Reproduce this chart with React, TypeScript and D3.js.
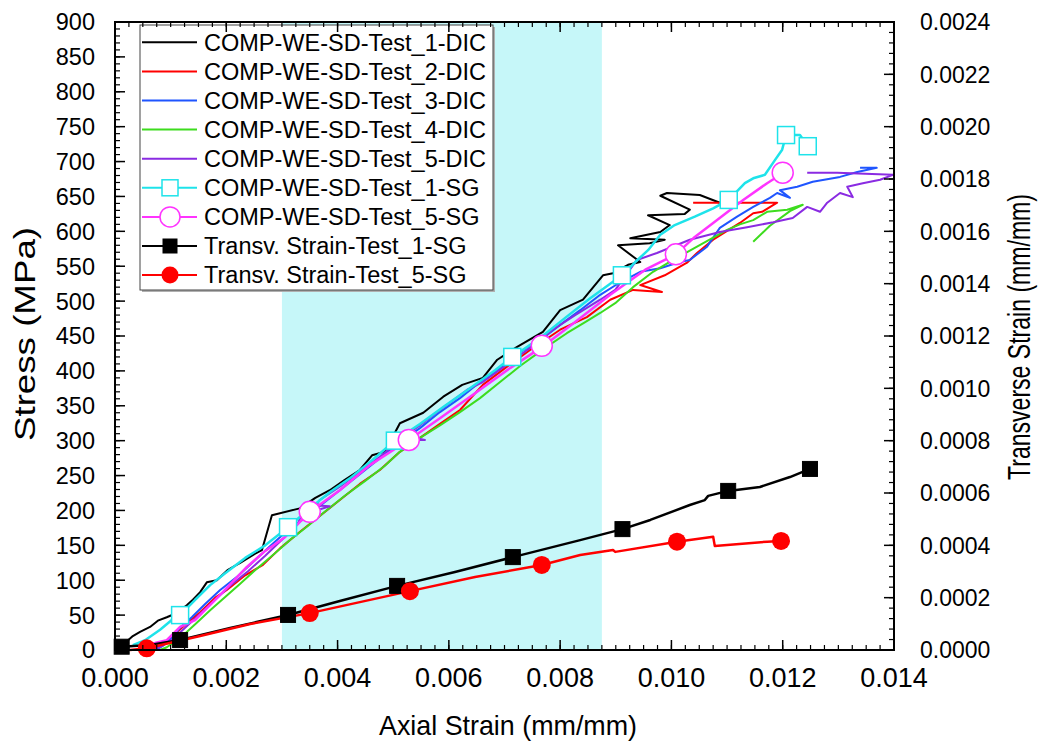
import React from "react";
import * as d3 from "d3";

// ---------- data ----------
type P = [number, number];

const dic1: P[] = [
  [0, 0], [0.00011, 6], [0.00022, 13], [0.00032, 20], [0.00045, 26], [0.00063, 33], [0.00077, 42],
  [0.00093, 47], [0.00108, 52], [0.00129, 64], [0.0014, 72], [0.00153, 83], [0.00165, 97], [0.00183, 100],
  [0.00203, 115], [0.00225, 125], [0.00252, 138], [0.00264, 143], [0.00282, 193], [0.00332, 203],
  [0.0036, 218], [0.00386, 229], [0.00413, 244], [0.0044, 258], [0.00462, 279], [0.00485, 284],
  [0.00512, 325], [0.00554, 340], [0.0059, 363], [0.00624, 380], [0.00661, 390], [0.00687, 416],
  [0.00722, 434], [0.00769, 456], [0.008, 487], [0.00841, 502], [0.00877, 537], [0.00895, 540],
  [0.00922, 552], [0.00944, 556], [0.00904, 580], [0.00961, 583], [0.00988, 588], [0.00926, 590],
  [0.0098, 599], [0.00997, 609], [0.00958, 623], [0.01024, 625], [0.01033, 631], [0.0098, 651],
  [0.00992, 655], [0.01051, 652], [0.01087, 641],
];

const dic2: P[] = [
  [0.00063, 0], [0.00081, 6], [0.00093, 13], [0.00108, 23], [0.00126, 36], [0.00153, 54], [0.0018, 75],
  [0.00201, 86], [0.00234, 107], [0.00266, 122], [0.00297, 146], [0.00332, 169], [0.00368, 192],
  [0.00404, 215], [0.0044, 238], [0.00476, 258], [0.00512, 284], [0.00548, 304], [0.00584, 324],
  [0.0062, 344], [0.00661, 380], [0.00701, 404], [0.00746, 430], [0.008, 459], [0.00848, 477],
  [0.0089, 502], [0.00931, 516], [0.00983, 513], [0.00944, 523], [0.00988, 537], [0.01028, 555],
  [0.01046, 569], [0.01075, 588], [0.01123, 612], [0.01147, 626], [0.01163, 628], [0.0119, 641],
  [0.01039, 641],
];

const dic3: P[] = [
  [0.00072, 0], [0.00086, 6], [0.00102, 17], [0.00117, 32], [0.00138, 47], [0.00162, 66], [0.00189, 86],
  [0.00221, 106], [0.00252, 129], [0.00279, 149], [0.00311, 172], [0.00341, 189], [0.00372, 209],
  [0.00404, 229], [0.0044, 252], [0.00476, 275], [0.00512, 298], [0.00548, 318], [0.00584, 341],
  [0.0062, 361], [0.00656, 384], [0.00692, 404], [0.00728, 427], [0.00764, 444], [0.008, 466],
  [0.00836, 487], [0.00872, 509], [0.00908, 527], [0.00944, 542], [0.0098, 547], [0.01015, 556],
  [0.01033, 559], [0.01064, 578], [0.01087, 605], [0.01118, 621], [0.01147, 635], [0.01177, 648],
  [0.0119, 655], [0.01213, 648], [0.01195, 659], [0.01226, 664], [0.01254, 671], [0.01303, 678],
  [0.01334, 685], [0.01369, 691], [0.01339, 691],
];

const dic4: P[] = [
  [0.00081, 0], [0.00093, 4], [0.00117, 17], [0.00147, 39], [0.00171, 57], [0.00198, 76], [0.00225, 95],
  [0.00257, 118], [0.00288, 139], [0.00315, 158], [0.00347, 178], [0.00377, 198], [0.00413, 221],
  [0.00449, 242], [0.00485, 264], [0.00512, 284], [0.00548, 304], [0.00584, 322], [0.0062, 341],
  [0.00656, 361], [0.00692, 384], [0.00728, 407], [0.00773, 433], [0.00812, 454], [0.00845, 470],
  [0.00872, 483], [0.00899, 497], [0.00931, 520], [0.00967, 542], [0.01003, 559], [0.01046, 578],
  [0.011, 602], [0.01123, 610], [0.01147, 616], [0.01172, 628], [0.01208, 631], [0.01236, 638],
  [0.01213, 629], [0.01177, 608], [0.01147, 585],
];

const dic5: P[] = [
  [0.00063, 0], [0.00081, 4], [0.00102, 14], [0.00126, 32], [0.00153, 52], [0.0018, 72], [0.00207, 92],
  [0.00239, 113], [0.0027, 135], [0.003, 158], [0.00329, 181], [0.00341, 208], [0.00386, 206],
  [0.00354, 198], [0.00368, 215], [0.00404, 234], [0.0044, 255], [0.00476, 277], [0.00512, 301],
  [0.00557, 301], [0.00521, 307], [0.00548, 322], [0.00584, 344], [0.00633, 373], [0.00661, 384],
  [0.00701, 407], [0.00746, 433], [0.00787, 459], [0.00827, 480], [0.00872, 502], [0.00899, 516],
  [0.00938, 559], [0.00974, 569], [0.01033, 588], [0.01087, 599], [0.01136, 606], [0.01183, 613],
  [0.01218, 619], [0.01244, 635], [0.01267, 628], [0.0128, 641], [0.01303, 655], [0.01326, 649],
  [0.01316, 664], [0.01344, 669], [0.01375, 674], [0.01398, 681], [0.01298, 684], [0.01244, 684],
];

const sg1Line: P[] = [
  [0.00032, 7], [0.00054, 14], [0.00081, 29], [0.00102, 43], [0.00117, 50], [0.00144, 72], [0.00171, 93],
  [0.00198, 110], [0.00234, 132], [0.0027, 150], [0.00311, 176], [0.0035, 203], [0.00386, 226],
  [0.00422, 246], [0.00462, 272], [0.00503, 300], [0.00548, 324], [0.00593, 350], [0.00638, 375],
  [0.00683, 401], [0.00714, 420], [0.00764, 447], [0.00809, 476], [0.00854, 504], [0.0089, 525],
  [0.00911, 537], [0.00935, 556], [0.00958, 573], [0.0098, 595], [0.01006, 609], [0.01042, 621],
  [0.01075, 633], [0.01103, 645], [0.01132, 669], [0.01147, 676], [0.01168, 681], [0.01186, 702],
  [0.01199, 717], [0.01206, 738], [0.01231, 738], [0.01245, 722],
];
const sg1Marks: P[] = [
  [0.00117, 50], [0.00311, 176], [0.00503, 300], [0.00714, 420], [0.00911, 537], [0.01103, 645],
  [0.01206, 738], [0.01245, 722],
];

const sg5Line: P[] = [
  [0.0005, 7], [0.00072, 10], [0.00093, 14], [0.00117, 33], [0.00144, 43], [0.00189, 79], [0.00237, 119],
  [0.0027, 142], [0.00306, 162], [0.0035, 198], [0.00404, 229], [0.00458, 265], [0.00528, 301],
  [0.00584, 332], [0.00647, 368], [0.0071, 404], [0.00767, 434], [0.00827, 470], [0.0089, 509],
  [0.00953, 545], [0.01008, 567], [0.01042, 592], [0.01075, 612], [0.01129, 645], [0.01172, 669],
  [0.01186, 676], [0.012, 684],
];
const sg5Marks: P[] = [
  [0.0035, 198], [0.00528, 301], [0.00767, 436], [0.01008, 567], [0.012, 684],
];

const tr1Line: P[] = [
  [0, 0], [0.00012, 0.0000126], [0.00063, 0.000019], [0.00117, 0.000038], [0.00207, 0.000084],
  [0.00311, 0.000134], [0.00404, 0.000187], [0.00507, 0.000245], [0.00611, 0.000298], [0.00715, 0.000355],
  [0.00836, 0.00042], [0.00912, 0.000462], [0.00962, 0.000497], [0.01033, 0.000554], [0.0106, 0.000573],
  [0.01066, 0.000589], [0.01102, 0.000608], [0.01159, 0.000623], [0.01213, 0.000661], [0.01249, 0.000692],
];
const tr1Marks: P[] = [
  [0.00012, 0.0000126], [0.00117, 0.000038], [0.00311, 0.000134], [0.00507, 0.000245], [0.00715, 0.000355],
  [0.00912, 0.000462], [0.01102, 0.000608], [0.01249, 0.000692],
];

const tr5Line: P[] = [
  [0.00027, 0], [0.00057, 0.0000065], [0.00153, 0.0000535], [0.00243, 0.0000994], [0.0035, 0.000141],
  [0.0044, 0.000183], [0.0053, 0.000225], [0.00647, 0.000279], [0.00767, 0.000325], [0.00836, 0.000363],
  [0.00895, 0.000382], [0.00899, 0.000375], [0.0101, 0.000414], [0.01075, 0.000433], [0.01078, 0.000397],
  [0.01172, 0.000414], [0.01197, 0.000417],
];
const tr5Marks: P[] = [
  [0.00057, 0.0000065], [0.0035, 0.000141], [0.0053, 0.000225], [0.00767, 0.000325], [0.0101, 0.000414],
  [0.01197, 0.000417],
];

const shadeRange: [number, number] = [0.003, 0.00875];

const xTickValues = [0, 0.002, 0.004, 0.006, 0.008, 0.01, 0.012, 0.014];
const xTickLabels = ["0.000", "0.002", "0.004", "0.006", "0.008", "0.010", "0.012", "0.014"];
const yTickValues = [0, 50, 100, 150, 200, 250, 300, 350, 400, 450, 500, 550, 600, 650, 700, 750, 800, 850, 900];
const y2TickValues = [0, 0.0002, 0.0004, 0.0006, 0.0008, 0.001, 0.0012, 0.0014, 0.0016, 0.0018, 0.002, 0.0022, 0.0024];
const y2TickLabels = ["0.0000", "0.0002", "0.0004", "0.0006", "0.0008", "0.0010", "0.0012", "0.0014", "0.0016", "0.0018", "0.0020", "0.0022", "0.0024"];

const legendLabels = [
  "COMP-WE-SD-Test_1-DIC",
  "COMP-WE-SD-Test_2-DIC",
  "COMP-WE-SD-Test_3-DIC",
  "COMP-WE-SD-Test_4-DIC",
  "COMP-WE-SD-Test_5-DIC",
  "COMP-WE-SD-Test_1-SG",
  "COMP-WE-SD-Test_5-SG",
  "Transv. Strain-Test_1-SG",
  "Transv. Strain-Test_5-SG",
];

// ---------- styles ----------
const C = {
  black: "#000000",
  red: "#ff0000",
  blue: "#1f55ff",
  green: "#3ddc1e",
  purple: "#8a2be2",
  cyan: "#1ee3ea",
  magenta: "#ff33ff",
  shade: "#c6f7f9",
};
const FONT = "'Liberation Sans', Arial, Helvetica, sans-serif";

export default function App() {
  const L = 115, R = 894, T = 22, B = 650;
  const x = d3.scaleLinear().domain([0, 0.014]).range([L, R]);
  const y = d3.scaleLinear().domain([0, 900]).range([B, T]);
  const y2 = d3.scaleLinear().domain([0, 0.0024]).range([B, T]);

  const line1 = d3.line<P>().x((d) => x(d[0])).y((d) => y(d[1]));
  const line2 = d3.line<P>().x((d) => x(d[0])).y((d) => y2(d[1]));

  const xMinor = d3.range(0, 0.014 + 1e-9, 0.00025);
  const yMinor = d3.range(0, 900 + 1e-6, 10);
  const y2Minor = d3.range(0, 0.0024 + 1e-9, 0.00004);

  const dicSeries: { d: P[]; c: string }[] = [
    { d: dic1, c: C.black },
    { d: dic2, c: C.red },
    { d: dic3, c: C.blue },
    { d: dic4, c: C.green },
    { d: dic5, c: C.purple },
  ];

  const legendTop = 42.3;
  const legendStep = 29.1;

  const sq = (cx: number, cy: number, s: number, fill: string, stroke: string, sw: number, key: any) => (
    <rect key={key} x={cx - s / 2} y={cy - s / 2} width={s} height={s} fill={fill} stroke={stroke} strokeWidth={sw} />
  );

  return (
    <svg width={1038} height={745} style={{ position: "absolute", left: 0, top: 0, background: "#fff" }} fontFamily={FONT}>
      <rect x={0} y={0} width={1038} height={745} fill="#fff" />
      {/* shaded band */}
      <rect x={x(shadeRange[0])} y={T} width={x(shadeRange[1]) - x(shadeRange[0])} height={B - T} fill={C.shade} />

      {/* legend box */}
      <rect x={142} y={27} width={353} height={265} fill="#b0b0b0" />
      <rect x={140} y={25} width={353} height={265} fill="#fff" stroke="#444" strokeWidth={1} />
      {legendLabels.map((lab, i) => {
        const cy = legendTop + i * legendStep;
        const colors = [C.black, C.red, C.blue, C.green, C.purple, C.cyan, C.magenta, C.black, C.red];
        return (
          <g key={lab}>
            <line x1={142} x2={197} y1={cy} y2={cy} stroke={colors[i]} strokeWidth={2} />
            {i === 5 && sq(170, cy, 16, "#fff", C.cyan, 1.5, "s")}
            {i === 6 && <circle cx={170} cy={cy} r={10} fill="#fff" stroke={C.magenta} strokeWidth={1.5} />}
            {i === 7 && sq(170, cy, 14, C.black, C.black, 1, "s")}
            {i === 8 && <circle cx={170} cy={cy} r={8.5} fill={C.red} />}
            <text x={204} y={cy} dy="0.35em" fontSize={23.5} fill="#000">{lab}</text>
          </g>
        );
      })}

      {/* DIC curves */}
      {dicSeries.map((s, i) => (
        <path key={i} d={line1(s.d) || ""} fill="none" stroke={s.c} strokeWidth={2} strokeLinejoin="round" />
      ))}

      {/* SG curves */}
      <path d={line1(sg1Line) || ""} fill="none" stroke={C.cyan} strokeWidth={2.5} strokeLinejoin="round" />
      <path d={line1(sg5Line) || ""} fill="none" stroke={C.magenta} strokeWidth={2.5} strokeLinejoin="round" />
      {sg1Marks.map((p, i) => sq(x(p[0]), y(p[1]), 17, "#fff", C.cyan, 1.5, "c" + i))}
      {sg5Marks.map((p, i) => (
        <circle key={"m" + i} cx={x(p[0])} cy={y(p[1])} r={10.5} fill="#fff" stroke={C.magenta} strokeWidth={1.5} />
      ))}

      {/* transverse curves */}
      <path d={line2(tr1Line) || ""} fill="none" stroke={C.black} strokeWidth={2.5} strokeLinejoin="round" />
      <path d={line2(tr5Line) || ""} fill="none" stroke={C.red} strokeWidth={2.5} strokeLinejoin="round" />
      {tr1Marks.map((p, i) => sq(x(p[0]), y2(p[1]), 15, C.black, C.black, 1, "t" + i))}
      {tr5Marks.map((p, i) => (
        <circle key={"r" + i} cx={x(p[0])} cy={y2(p[1])} r={9} fill={C.red} />
      ))}

      {/* axes frame */}
      <rect x={L} y={T} width={R - L} height={B - T} fill="none" stroke="#000" strokeWidth={2} />

      {/* x ticks bottom & top */}
      {xMinor.map((v, i) => (
        <g key={"xm" + i}>
          <line x1={x(v)} x2={x(v)} y1={B} y2={B - 5} stroke="#000" strokeWidth={1.2} />
          <line x1={x(v)} x2={x(v)} y1={T} y2={T + 5} stroke="#000" strokeWidth={1.2} />
        </g>
      ))}
      {xTickValues.map((v, i) => (
        <g key={"xt" + i}>
          <line x1={x(v)} x2={x(v)} y1={B} y2={B - 10} stroke="#000" strokeWidth={1.5} />
          <line x1={x(v)} x2={x(v)} y1={T} y2={T + 10} stroke="#000" strokeWidth={1.5} />
          <text x={x(v)} y={687} textAnchor="middle" fontSize={27} fill="#000">{xTickLabels[i]}</text>
        </g>
      ))}

      {/* y left ticks */}
      {yMinor.map((v, i) => (
        <line key={"ym" + i} x1={L} x2={L + 5} y1={y(v)} y2={y(v)} stroke="#000" strokeWidth={1.2} />
      ))}
      {yTickValues.map((v, i) => (
        <g key={"yt" + i}>
          <line x1={L} x2={L + 10} y1={y(v)} y2={y(v)} stroke="#000" strokeWidth={1.5} />
          <text x={95} y={y(v)} dy="0.36em" textAnchor="end" fontSize={23.5} fill="#000">{String(v)}</text>
        </g>
      ))}

      {/* y right ticks */}
      {y2Minor.map((v, i) => (
        <line key={"y2m" + i} x1={R} x2={R - 5} y1={y2(v)} y2={y2(v)} stroke="#000" strokeWidth={1.2} />
      ))}
      {y2TickValues.map((v, i) => (
        <g key={"y2t" + i}>
          <line x1={R} x2={R - 10} y1={y2(v)} y2={y2(v)} stroke="#000" strokeWidth={1.5} />
          <text x={920} y={y2(v)} dy="0.36em" textAnchor="start" fontSize={23} fill="#000">{y2TickLabels[i]}</text>
        </g>
      ))}

      {/* axis titles */}
      <text x={508} y={735} textAnchor="middle" fontSize={28} fill="#000" textLength={258} lengthAdjust="spacingAndGlyphs">
        Axial Strain (mm/mm)
      </text>
      <text transform="translate(35,334) rotate(-90)" textAnchor="middle" fontSize={29} fill="#000" textLength={214} lengthAdjust="spacingAndGlyphs">
        Stress (MPa)
      </text>
      <text transform="translate(1030,337) rotate(-90)" textAnchor="middle" fontSize={32} fill="#000" textLength={286} lengthAdjust="spacingAndGlyphs">
        Transverse Strain (mm/mm)
      </text>
    </svg>
  );
}
